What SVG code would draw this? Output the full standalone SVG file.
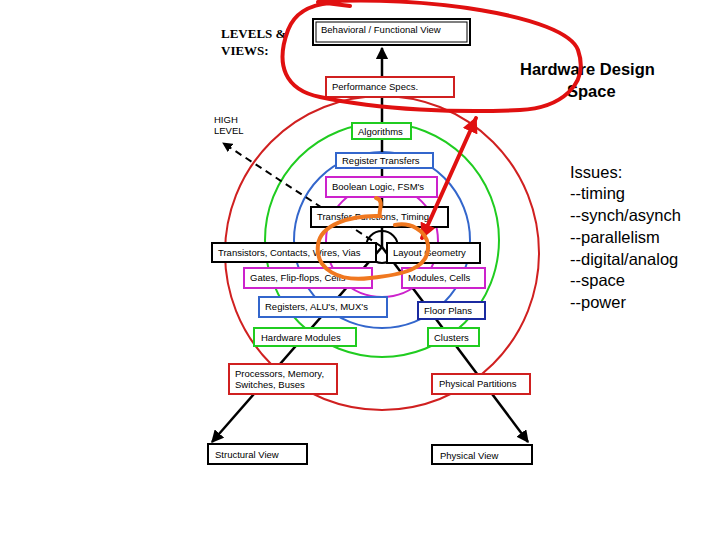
<svg xmlns="http://www.w3.org/2000/svg" width="720" height="540" viewBox="0 0 720 540">
<style>
.b{fill:#fff;stroke-width:2}
.t{font-family:"Liberation Sans",Arial,sans-serif;font-size:9.5px;fill:#000}
.ring{fill:none;stroke-width:2}
.ax{stroke:#000;stroke-width:2.5;fill:none}
.i{font-family:"Liberation Sans",Arial,sans-serif;font-size:16.5px;fill:#000}
</style>
<defs>
<marker id="ah" viewBox="0 0 10 10" refX="9" refY="5" markerWidth="5" markerHeight="5" orient="auto"><path d="M0,0L10,5L0,10z" fill="#000"/></marker>
<marker id="rh" viewBox="0 0 10 10" refX="9" refY="5" markerWidth="4" markerHeight="4" orient="auto-start-reverse"><path d="M0,0L10,5L0,10z" fill="#e01010"/></marker>
</defs>
<rect width="720" height="540" fill="#fff"/>
<g id="rings">
<circle class="ring" cx="382" cy="253" r="157" stroke="#d02020"/>
<circle class="ring" cx="382" cy="240" r="117" stroke="#20cc20"/>
<circle class="ring" cx="382" cy="240" r="88" stroke="#3366cc"/>
<circle class="ring" cx="382" cy="241" r="56" stroke="#cc22cc"/>
<circle class="ring" cx="382" cy="247" r="16" stroke="#000" stroke-width="1.5"/>
</g>
<g id="connectors">
<line class="ax" x1="382" y1="247" x2="382" y2="48" marker-end="url(#ah)"/>
<line class="ax" x1="382" y1="247" x2="212" y2="442" marker-end="url(#ah)"/>
<line class="ax" x1="382" y1="247" x2="528" y2="442" marker-end="url(#ah)"/>
<line x1="382" y1="247" x2="223" y2="143" stroke="#000" stroke-width="2" stroke-dasharray="7,5" marker-end="url(#ah)"/>
</g>
<g id="n-beh"><rect class="b" x="313" y="19" width="157" height="26" stroke="#000" stroke-width="3"/><rect x="316" y="22" width="151" height="20" fill="none" stroke="#000" stroke-width="1"/><text class="t" x="321" y="33">Behavioral / Functional View</text></g>
<g id="n-perf"><rect class="b" x="326" y="77" width="128" height="20" stroke="#d02020"/><text class="t" x="332" y="90">Performance Specs.</text></g>
<g id="n-alg"><rect class="b" x="352" y="123" width="59" height="16" stroke="#20cc20"/><text class="t" x="358" y="135">Algorithms</text></g>
<g id="n-rt"><rect class="b" x="336" y="153" width="97" height="15" stroke="#3366cc"/><text class="t" x="342" y="164">Register Transfers</text></g>
<g id="n-bool"><rect class="b" x="326" y="177" width="111" height="20" stroke="#cc22cc"/><text class="t" x="332" y="190">Boolean Logic, FSM's</text></g>
<g id="n-tf"><rect class="b" x="311" y="207" width="137" height="20" stroke="#000"/><text class="t" x="317" y="220">Transfer Functions, Timing</text></g>
<g id="n-trans"><rect class="b" x="212" y="243" width="164" height="19" stroke="#000"/><text class="t" x="218" y="256">Transistors, Contacts, Wires, Vias</text></g>
<g id="n-layout"><rect class="b" x="387" y="243" width="93" height="20" stroke="#000"/><text class="t" x="393" y="256">Layout Geometry</text></g>
<g id="n-gates"><rect class="b" x="244" y="268" width="128" height="20" stroke="#cc22cc"/><text class="t" x="250" y="281">Gates, Flip-flops, Cells</text></g>
<g id="n-mod"><rect class="b" x="402" y="268" width="83" height="20" stroke="#cc22cc"/><text class="t" x="408" y="281">Modules, Cells</text></g>
<g id="n-reg"><rect class="b" x="259" y="297" width="128" height="20" stroke="#3366cc"/><text class="t" x="265" y="310">Registers, ALU's, MUX's</text></g>
<g id="n-floor"><rect class="b" x="418" y="302" width="67" height="17" stroke="#1a2aa0"/><text class="t" x="424" y="314">Floor Plans</text></g>
<g id="n-hw"><rect class="b" x="254" y="328" width="102" height="18" stroke="#20cc20"/><text class="t" x="261" y="341">Hardware Modules</text></g>
<g id="n-clu"><rect class="b" x="428" y="328" width="51" height="18" stroke="#20cc20"/><text class="t" x="434" y="341">Clusters</text></g>
<g id="n-proc"><rect class="b" x="229" y="364" width="108" height="30" stroke="#d02020"/><text class="t" x="235" y="377">Processors, Memory,</text><text class="t" x="235" y="388">Switches, Buses</text></g>
<g id="n-pp"><rect class="b" x="432" y="374" width="98" height="20" stroke="#d02020"/><text class="t" x="439" y="387">Physical Partitions</text></g>
<g id="n-sv"><rect class="b" x="208" y="444" width="99" height="20" stroke="#000" stroke-width="2.5"/><text class="t" x="215" y="458">Structural View</text></g>
<g id="n-pv"><rect class="b" x="432" y="445" width="100" height="19" stroke="#000" stroke-width="3"/><text class="t" x="440" y="459">Physical View</text></g>
<g id="labels">
<text x="221" y="38" font-family="Liberation Serif,serif" font-weight="bold" font-size="13">LEVELS &amp;</text>
<text x="221" y="55" font-family="Liberation Serif,serif" font-weight="bold" font-size="13">VIEWS:</text>
<text x="214" y="123" class="t" font-size="9">HIGH</text>
<text x="214" y="134" class="t" font-size="9">LEVEL</text>
<text x="520" y="75" class="i" font-weight="bold" font-size="17">Hardware Design</text>
<text x="567" y="97" class="i" font-weight="bold" font-size="17">Space</text>
<text class="i"><tspan x="570" y="178">Issues:</tspan><tspan x="570" y="199">--timing</tspan><tspan x="570" y="221">--synch/asynch</tspan><tspan x="570" y="243">--parallelism</tspan><tspan x="570" y="265">--digital/analog</tspan><tspan x="570" y="286">--space</tspan><tspan x="570" y="308">--power</tspan></text>
</g>
<g id="annotations" fill="none" stroke-linecap="round">
<path d="M318,2 C420,-5 565,15 578,50 C590,85 560,108 520,110 C460,113 380,110 320,97 C285,90 275,65 288,30 C295,12 310,5 330,3 M318,2 L350,6" stroke="#e01010" stroke-width="4"/>
<line x1="422" y1="238" x2="476" y2="118" stroke="#e01010" stroke-width="4" marker-start="url(#rh)" marker-end="url(#rh)"/>
<path d="M376,198 C385,200 378,212 380,216 C350,215 320,225 318,245 C315,270 340,282 370,278 C400,275 430,270 428,245 C426,230 410,222 395,225" stroke="#f07820" stroke-width="4"/>
</g>
</svg>
